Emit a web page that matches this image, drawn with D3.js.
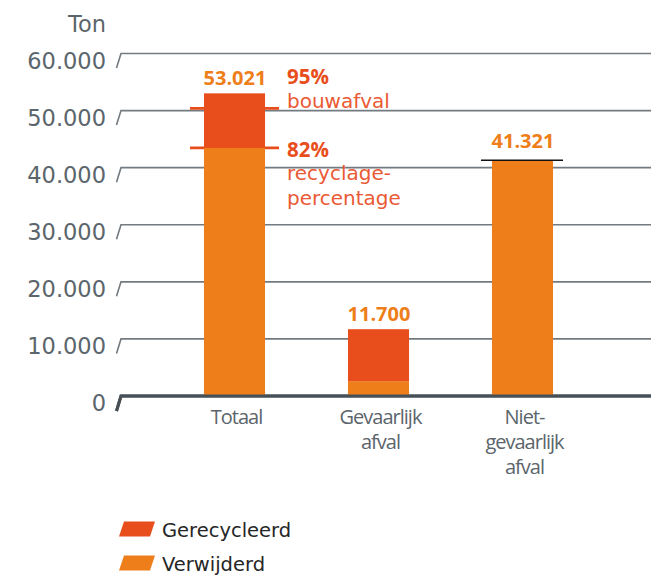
<!DOCTYPE html>
<html>
<head>
<meta charset="utf-8">
<script src="https://cdn.jsdelivr.net/npm/d3@7"></script>
<style>
  html, body { margin: 0; padding: 0; background: #ffffff; }
  svg { display: block; }
</style>
</head>
<body>
<div id="chart"></div>
<script>
// ---- data ----
const categories = ["Totaal", "Gevaarlijk afval", "Niet-gevaarlijk afval"];
const categoryLines = [["Totaal"], ["Gevaarlijk", "afval"], ["Niet-", "gevaarlijk", "afval"]];
const verwijderd = [43477, 2600, 41321];
const gerecycleerd = [9544, 9100, 0];
const totals = [53021, 11700, 41321];
const totalLabels = ["53.021", "11.700", "41.321"];
const yTicks = [0, 10000, 20000, 30000, 40000, 50000, 60000];
const yTickLabels = ["0", "10.000", "20.000", "30.000", "40.000", "50.000", "60.000"];
const refPercents = [95, 82];
const refPctLabels = ["95%", "82%"];
const refTexts = [["bouwafval"], ["recyclage-", "percentage"]];
const seriesNames = ["Gerecycleerd", "Verwijderd"];
const topMarker = [false, false, true];

// ---- style ----
const W = 651, H = 575;
const cRed = "#e84e1c", cOrange = "#ee7e1a";
const gray = "#5b656b", gridCol = "#737b80", baseCol = "#465056";

const svg = d3.select("#chart").append("svg").attr("width", W).attr("height", H);

const y = d3.scaleLinear().domain([0, 60000]).range([396, 53.5]);
const x = d3.scaleBand().domain(categories).range([162.5, 594.5])
  .paddingInner(0.576).paddingOuter(0.288);
const gridX0 = 121, gridX1 = 651;

// gridlines with slanted tick
const grid = svg.append("g");
yTicks.forEach((t, i) => {
  const yy = y(t);
  const isBase = t === 0;
  grid.append("path")
    .attr("d", `M${gridX0 - 4.5},${yy + (isBase ? 15 : 14.5)} L${gridX0},${yy} L${gridX1},${yy}`)
    .attr("fill", "none")
    .attr("stroke", isBase ? baseCol : gridCol)
    .attr("stroke-width", isBase ? 3 : 1.6);
  svg.append("text")
    .attr("x", 106).attr("y", yy + 15)
    .attr("text-anchor", "end")
    .attr("font-family", "DejaVu Sans, sans-serif")
    .attr("font-size", 22.5)
    .attr("fill", gray)
    .text(yTickLabels[i]);
});
svg.append("text").attr("x", 106).attr("y", 32).attr("text-anchor", "end")
  .attr("font-family", "DejaVu Sans, sans-serif").attr("font-size", 22.5)
  .attr("fill", gray).text("Ton");

// reference lines (behind bars)
const iTot = 0;
refPercents.forEach((p, i) => {
  const v = totals[iTot] * p / 100;
  const yy = y(v);
  svg.append("line")
    .attr("x1", x(categories[iTot]) - 14).attr("x2", x(categories[iTot]) + x.bandwidth() + 14)
    .attr("y1", yy).attr("y2", yy)
    .attr("stroke", cRed).attr("stroke-width", 2.8);
});

// stacked bars
const stackData = categories.map((c, i) => ({ cat: c, Verwijderd: verwijderd[i], Gerecycleerd: gerecycleerd[i] }));
const stack = d3.stack().keys(["Verwijderd", "Gerecycleerd"]);
const layers = stack(stackData);
const colors = { Verwijderd: cOrange, Gerecycleerd: cRed };
layers.forEach(layer => {
  svg.append("g").selectAll("rect").data(layer).join("rect")
    .attr("x", d => x(d.data.cat))
    .attr("width", x.bandwidth())
    .attr("y", d => y(d[1]))
    .attr("height", d => Math.max(0, y(d[0]) - y(d[1])))
    .attr("fill", colors[layer.key]);
});

// baseline drawn again on top
svg.append("path")
  .attr("d", `M${gridX0 - 4.5},${y(0) + 15} L${gridX0},${y(0)} L${gridX1},${y(0)}`)
  .attr("fill", "none").attr("stroke", baseCol).attr("stroke-width", 3);

// top markers
categories.forEach((c, i) => {
  if (!topMarker[i]) return;
  svg.append("line")
    .attr("x1", x(c) - 11).attr("x2", x(c) + x.bandwidth() + 10)
    .attr("y1", y(totals[i])).attr("y2", y(totals[i]))
    .attr("stroke", "#111").attr("stroke-width", 1.5);
});

// value labels
categories.forEach((c, i) => {
  svg.append("text")
    .attr("x", x(c) + x.bandwidth() / 2 + 0.5)
    .attr("y", y(totals[i]) - (topMarker[i] ? 12 : 8))
    .attr("text-anchor", "middle")
    .attr("font-family", "Open Sans, sans-serif")
    .attr("font-weight", 700)
    .attr("font-size", 20)
    .attr("fill", cOrange)
    .text(totalLabels[i]);
});

// reference annotations
const annX = x(categories[iTot]) + x.bandwidth() + 22;
const annBase = [84, 156.5];
refPercents.forEach((p, i) => {
  svg.append("text").attr("x", annX).attr("y", annBase[i])
    .attr("font-family", "Open Sans, sans-serif").attr("font-weight", 700)
    .attr("font-size", 20.5).attr("fill", cRed).text(refPctLabels[i]);
  refTexts[i].forEach((t, j) => {
    svg.append("text").attr("x", annX).attr("y", annBase[i] + 23.5 + j * 24.5)
      .attr("font-family", "DejaVu Sans, sans-serif")
      .attr("font-size", 20).attr("fill", "#ea5a35").text(t);
  });
});

// category labels
categories.forEach((c, i) => {
  categoryLines[i].forEach((t, j) => {
    svg.append("text")
      .attr("x", x(c) + x.bandwidth() / 2 + 2)
      .attr("y", 424 + j * 25)
      .attr("text-anchor", "middle")
      .attr("font-family", "Open Sans, sans-serif")
      .attr("font-size", 20)
      .attr("letter-spacing", -1)
      .attr("fill", gray)
      .text(t);
  });
});

// legend
const legY = [529, 563];
seriesNames.forEach((s, i) => {
  const cy = legY[i];
  svg.append("path")
    .attr("d", `M119,${cy + 7.5} L124,${cy - 7.5} L155,${cy - 7.5} L150,${cy + 7.5} Z`)
    .attr("fill", colors[s]);
  svg.append("text").attr("x", 162).attr("y", cy + 8)
    .attr("font-family", "DejaVu Sans, sans-serif").attr("font-size", 19.5)
    .attr("fill", "#262626").text(s);
});
</script>
</body>
</html>
